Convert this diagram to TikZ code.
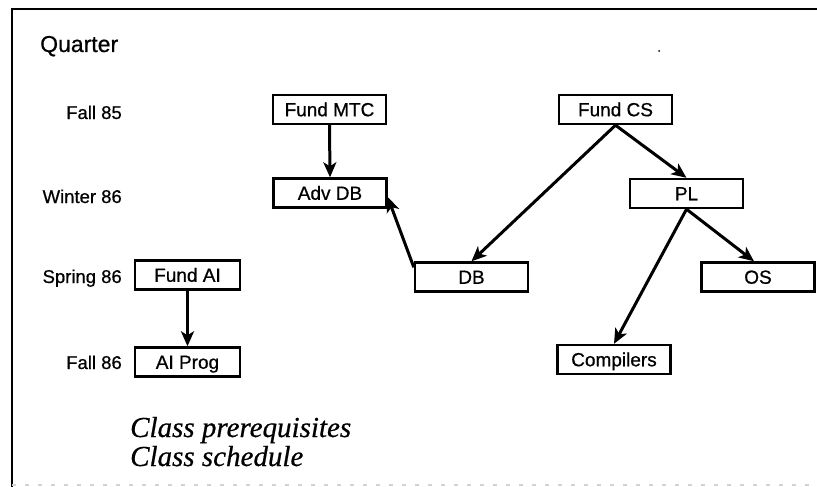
\documentclass[tikz,border=0pt]{standalone}
\usepackage{fontspec}
\setmainfont{Liberation Sans}[FakeBold=0.7]
\newfontfamily\itfam{Liberation Serif}[FakeBold=0.6]
\usetikzlibrary{arrows.meta}
\begin{document}
\begin{tikzpicture}[x=1pt,y=-1pt,
  box/.style={draw, line width=2.4pt, minimum width=113pt, minimum height=29pt, inner sep=0pt,
    font=\fontsize{19}{22}\selectfont, text height=13.5pt, text depth=0pt},
  smallbox/.style={box, minimum width=105pt},
  qlabel/.style={anchor=base east, inner sep=0pt, font=\fontsize{18.5}{22}\selectfont},
  caption/.style={anchor=base west, inner sep=0pt, font=\itfam\itshape\fontsize{29}{30}\selectfont},
  arr/.style={line width=3pt, -{Stealth[length=15pt,width=13pt,inset=4pt]}}]
\useasboundingbox (0,0) rectangle (817,487);
% frame
\draw[line width=2pt] (12,487) -- (12,9) -- (817,9);
\draw[gray!35, line width=1.5pt, dash pattern=on 4pt off 9pt] (12,485) -- (817,485);
\fill (659,51) circle (1pt);
% headings and quarter labels
\node[anchor=base west, inner sep=0pt, font=\fontsize{23}{26}\selectfont] (quarter) at (40,52) {Quarter};
\node[qlabel] (f85) at (122,119) {Fall 85};
\node[qlabel] (w86) at (122,203) {Winter 86};
\node[qlabel] (s86) at (122,283) {Spring 86};
\node[qlabel] (f86) at (122,369) {Fall 86};
% class boxes
\node[box] (fmtc) at (329.5,109.5) {Fund MTC};
\node[box] (advdb) at (330,193) {Adv DB};
\node[box] (fcs) at (615.5,109.5) {Fund CS};
\node[box] (pl) at (686.5,193.5) {PL};
\node[box] (db) at (471.5,277) {DB};
\node[box] (os) at (758,277) {OS};
\node[box] (comp) at (614,359.5) {Compilers};
\node[smallbox] (fai) at (187.5,275) {Fund AI};
\node[smallbox] (aip) at (187.5,362) {AI Prog};
% prerequisites
\draw[arr] (fmtc.south) -- (advdb.north);
\draw[arr] ([yshift=-6pt]db.north west) -- ([yshift=-4pt]advdb.east);
\draw[arr] (fcs.south) -- (db.north);
\draw[arr] (fcs.south) -- (pl.north);
\draw[arr] (pl.south) -- (comp.north);
\draw[arr] (pl.south) -- ([xshift=-4pt]os.north);
\draw[arr] (fai.south) -- (aip.north);
% captions
\node[caption] (cap1) at (130,437) {Class prerequisites};
\node[caption] (cap2) at (130,466) {Class schedule};
\end{tikzpicture}
\end{document}
